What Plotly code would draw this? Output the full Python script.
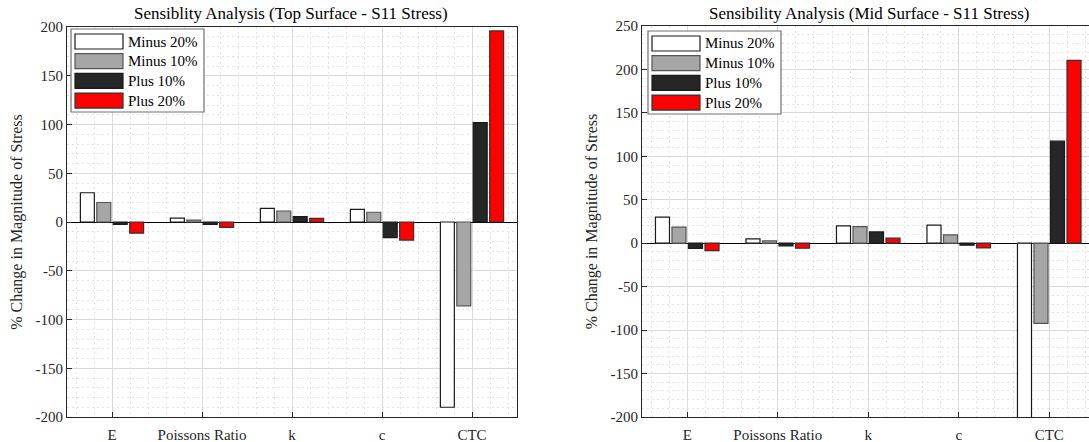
import plotly.graph_objects as go

W, H = 1089, 442

categories = ["E", "Poissons Ratio", "k", "c", "CTC"]
series_names = ["Minus 20%", "Minus 10%", "Plus 10%", "Plus 20%"]

top_minus20 = [30, 4, 14, 13, -190]
top_minus10 = [20, 2, 11.3, 10, -86]
top_plus10 = [-2.5, -2.5, 5.5, -16, 102]
top_plus20 = [-11.5, -5.5, 3.8, -18.5, 196]

mid_minus20 = [30, 5, 20, 20.8, -201]
mid_minus10 = [18.5, 2.7, 19, 9.6, -92.3]
mid_plus10 = [-6, -3, 13, -2.3, 117.5]
mid_plus20 = [-8.5, -5.8, 5.8, -5.4, 210.5]

top_yticks = [-200, -150, -100, -50, 0, 50, 100, 150, 200]
mid_yticks = [-200, -150, -100, -50, 0, 50, 100, 150, 200, 250]

top_title = "Sensiblity Analysis (Top Surface - S11 Stress)"
mid_title = "Sensibility Analysis (Mid Surface - S11 Stress)"
ylabel = "% Change in Magnitude of Stress"

fills = ["#FFFFFF", "#A6A6A6", "#262626", "#FF0000"]
edges = ["#1a1a1a", "#555555", "#1a1a1a", "#333333"]

FONT = "Liberation Serif"

def px(x):
    return x / W

def py(y):
    return 1 - y / H

# axes boxes in pixels
L_ax = dict(l=67, r=517, t=27, b=417)
R_ax = dict(l=642, r=1089, t=26, b=417)

fig = go.Figure()
xs = list(range(1, len(categories) + 1))
top_series = [top_minus20, top_minus10, top_plus10, top_plus20]
mid_series = [mid_minus20, mid_minus10, mid_plus10, mid_plus20]
for i, name in enumerate(series_names):
    fig.add_trace(go.Bar(x=xs, y=top_series[i], name=name, xaxis="x", yaxis="y",
                         marker=dict(color=fills[i], line=dict(color=edges[i], width=1.2)),
                         showlegend=False, offsetgroup=str(i)))
for i, name in enumerate(series_names):
    fig.add_trace(go.Bar(x=xs, y=mid_series[i], name=name, xaxis="x2", yaxis="y2",
                         marker=dict(color=fills[i], line=dict(color=edges[i], width=1.2)),
                         showlegend=False, offsetgroup=str(i)))

grid_major = "#DADADA"
grid_minor = "#E2E2E2"
tickfont = dict(family=FONT, size=15, color="#262626")

def xaxis(dom, rng, anchor, mirror):
    return dict(domain=dom, range=rng, anchor=anchor, tickvals=xs, ticktext=categories,
                showgrid=True, gridcolor=grid_major, gridwidth=1,
                minor=dict(dtick=0.2, tick0=1, showgrid=True, gridcolor=grid_minor,
                           griddash="2px,3px", gridwidth=1, ticks=""),
                ticks="inside", ticklen=5, tickcolor="#262626",
                showline=True, linecolor="#262626", linewidth=1, mirror=mirror,
                tickfont=tickfont, zeroline=False, fixedrange=True, ticklabelstandoff=4)

def yaxis(dom, rng, anchor, mirror, ticks):
    return dict(domain=dom, range=rng, anchor=anchor,
                tickvals=ticks, ticktext=[str(t) for t in ticks],
                showgrid=True, gridcolor=grid_major, gridwidth=1,
                minor=dict(dtick=10, tick0=0, showgrid=True, gridcolor=grid_minor,
                           griddash="2px,3px", gridwidth=1, ticks=""),
                ticks="inside", ticklen=5, tickcolor="#262626",
                showline=True, linecolor="#262626", linewidth=1, mirror=mirror,
                tickfont=tickfont, zeroline=True, zerolinecolor="#000000", zerolinewidth=1,
                title=dict(text=ylabel, font=dict(family=FONT, size=16, color="#262626"), standoff=8),
                fixedrange=True)

fig.update_layout(
    width=W, height=H,
    margin=dict(l=0, r=0, t=0, b=0, autoexpand=False),
    paper_bgcolor="white", plot_bgcolor="white",
    font=dict(family=FONT),
    barmode="group", bargap=0.27, bargroupgap=0.15,
    xaxis=xaxis([px(L_ax["l"]), px(L_ax["r"])], [0.5, 5.5], "y", True),
    yaxis=yaxis([py(L_ax["b"]), py(L_ax["t"])], [-200, 200], "x", True, top_yticks),
    xaxis2=xaxis([px(R_ax["l"]), 1.0], [0.5, 0.5 + (R_ax["r"] - R_ax["l"]) / 90.5], "y2", True),
    yaxis2=yaxis([py(R_ax["b"]), py(R_ax["t"])], [-200, 250], "x2", False, mid_yticks),
    showlegend=False,
)

annotations = []
shapes = []
# titles
annotations.append(dict(text=top_title, x=px(291), y=py(13), xref="paper", yref="paper",
                        showarrow=False, font=dict(family=FONT, size=17, color="#000000"),
                        xanchor="center", yanchor="middle"))
annotations.append(dict(text=mid_title, x=px(869), y=py(13), xref="paper", yref="paper",
                        showarrow=False, font=dict(family=FONT, size=17, color="#000000"),
                        xanchor="center", yanchor="middle"))

# legends (drawn manually to match large swatches)
def add_legend(x0, y0):
    shapes.append(dict(type="rect", xref="paper", yref="paper", x0=px(x0), x1=px(x0 + 133),
                       y0=py(y0 + 83), y1=py(y0), fillcolor="white",
                       line=dict(color="#707070", width=1.2), layer="above"))
    for i, name in enumerate(series_names):
        cy = y0 + 12.5 + i * 19.7
        shapes.append(dict(type="rect", xref="paper", yref="paper", x0=px(x0 + 4), x1=px(x0 + 52),
                           y0=py(cy + 7.5), y1=py(cy - 7.5), fillcolor=fills[i],
                           line=dict(color=edges[i], width=1.2), layer="above"))
        annotations.append(dict(text=name, x=px(x0 + 55), y=py(cy), xref="paper", yref="paper",
                                showarrow=False, xanchor="left", yanchor="middle",
                                font=dict(family=FONT, size=15, color="#000000")))

add_legend(71, 29)
add_legend(648, 31)

fig.update_layout(annotations=annotations, shapes=shapes)
fig.write_html("out.html")
